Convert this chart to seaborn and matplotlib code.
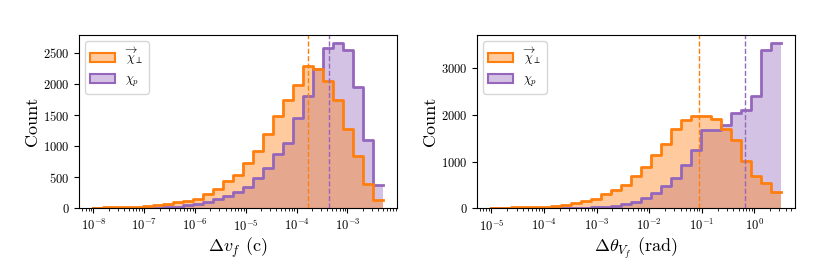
import numpy as np
import pandas as pd
import matplotlib
matplotlib.use("Agg")
import matplotlib.pyplot as plt
import seaborn as sns
from matplotlib.patches import Patch

# ---------------- data ----------------
labels = [r"$\overrightarrow{\chi}_\perp$", r"$\chi_p$"]
series_keys = ["perp", "p"]

# Left panel: Delta v_f (c), 29 log-spaced bins
dvf_range = (1e-8, 4.9e-3)
dvf_counts_perp = [10, 13, 16, 20, 25, 32, 48, 70, 96, 120, 155, 222, 304, 440, 534,
                   721, 924, 1191, 1480, 1736, 1977, 2286, 2244, 2046, 1736, 1282,
                   839, 385, 134]
dvf_counts_p = [1, 2, 2, 3, 4, 6, 11, 16, 29, 48, 72, 107, 148, 203, 256, 347, 481,
                641, 865, 1052, 1458, 1800, 2233, 2575, 2655, 2548, 1950, 1106, 374]
dvf_median_perp = 1.67e-4
dvf_median_p = 4.35e-4

# Right panel: Delta theta_{V_f} (rad), 29 log-spaced bins
dth_range = (1e-5, np.pi)
dth_counts_perp = [14, 14, 18, 22, 30, 38, 48, 60, 110, 150, 200, 298, 390, 490, 695,
                   880, 1150, 1375, 1700, 1885, 1980, 1964, 1914, 1700, 1468, 1020,
                   695, 540, 347]
dth_counts_p = [2, 3, 4, 5, 6, 8, 10, 12, 12, 16, 21, 35, 57, 92, 142, 213, 319, 475,
                652, 929, 1255, 1666, 1680, 1773, 2042, 2100, 2411, 3395, 3531]
dth_median_perp = 0.089
dth_median_p = 0.67

n_bins = 29
colors = {"perp": "#ff7f0e", "p": "#9467bd"}

# ---------------- style ----------------
plt.rcParams["font.family"] = ["serif"]
plt.rcParams["font.serif"] = ["cmr10", "DejaVu Serif"]
plt.rcParams["mathtext.fontset"] = "cm"
plt.rcParams["axes.formatter.use_mathtext"] = True
plt.rcParams["axes.unicode_minus"] = True

fig = plt.figure(figsize=(8.3, 2.77), dpi=100)
ax1 = fig.add_axes([0.0952, 0.248, 0.3831, 0.626])
ax2 = fig.add_axes([0.5747, 0.248, 0.3831, 0.626])


def draw(ax, rng, c_perp, c_p, med_perp, med_p, xlabel):
    log_edges = np.linspace(np.log10(rng[0]), np.log10(rng[1]), n_bins + 1)
    centers = 10 ** ((log_edges[:-1] + log_edges[1:]) / 2)
    df = pd.DataFrame({
        "x": np.concatenate([centers, centers]),
        "w": np.concatenate([c_perp, c_p]),
        "s": ["perp"] * n_bins + ["p"] * n_bins,
    })
    bins = list(log_edges)
    sns.histplot(data=df, x="x", weights="w", hue="s", hue_order=series_keys,
                 palette=colors, bins=bins, log_scale=True, element="step",
                 fill=True, alpha=0.4, linewidth=0, legend=False, ax=ax)
    sns.histplot(data=df, x="x", weights="w", hue="s", hue_order=series_keys,
                 palette=colors, bins=bins, log_scale=True, element="step",
                 fill=False, linewidth=2, legend=False, ax=ax)
    ax.axvline(med_perp, color=colors["perp"], ls="--", lw=1)
    ax.axvline(med_p, color=colors["p"], ls="--", lw=1)
    ax.set_xlabel(xlabel, fontsize=13, labelpad=1)
    ax.set_ylabel("Count", fontsize=13, labelpad=2)
    ax.tick_params(labelsize=9)
    handles = [Patch(facecolor=matplotlib.colors.to_rgba(colors[k], 0.4),
                     edgecolor=colors[k], linewidth=1.5) for k in series_keys]
    ax.legend(handles, labels, loc="upper left", fontsize=9)


draw(ax1, dvf_range, dvf_counts_perp, dvf_counts_p, dvf_median_perp, dvf_median_p,
     r"$\Delta v_f$ (c)")
draw(ax2, dth_range, dth_counts_perp, dth_counts_p, dth_median_perp, dth_median_p,
     r"$\Delta\theta_{V_f}$ (rad)")

fig.savefig("out.png", dpi=100)
